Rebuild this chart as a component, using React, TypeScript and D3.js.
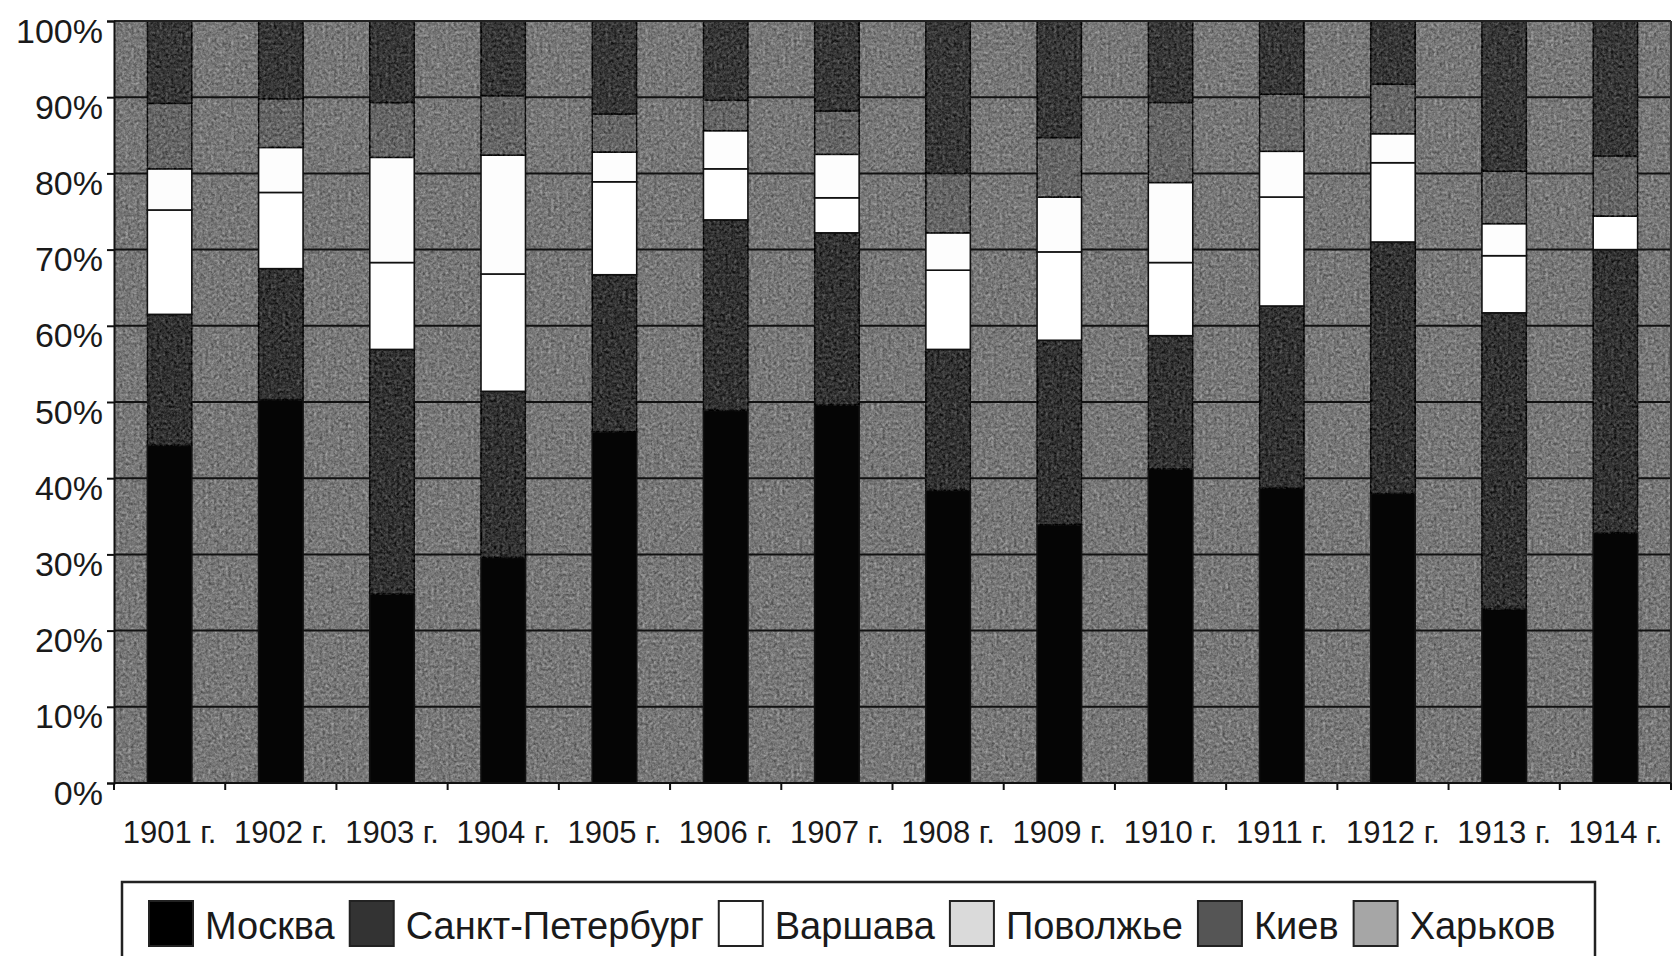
import React, { useEffect, useRef } from 'react'
import * as d3 from 'd3'

// shares by region, % of the year total
const years = ['1901 г.', '1902 г.', '1903 г.', '1904 г.', '1905 г.', '1906 г.', '1907 г.', '1908 г.', '1909 г.', '1910 г.', '1911 г.', '1912 г.', '1913 г.', '1914 г.']
const cities = ['Москва', 'Санкт-Петербург', 'Варшава', 'Поволжье', 'Киев', 'Харьков']
const moscow = [44.3, 50.3, 24.8, 29.6, 46.1, 48.9, 49.6, 38.4, 33.9, 41.2, 38.7, 38.0, 22.8, 32.8]
const petersburg = [17.2, 17.2, 32.1, 21.8, 20.6, 25.0, 22.6, 18.5, 24.2, 17.5, 23.9, 33.0, 38.9, 37.2]
const warsaw = [13.7, 10.0, 11.4, 15.4, 12.2, 6.7, 4.6, 10.4, 11.6, 9.6, 14.3, 10.4, 7.5, 4.4]
const volga = [5.4, 5.9, 13.8, 15.6, 3.9, 5.0, 5.7, 4.9, 7.2, 10.5, 6.0, 3.8, 4.2, 0]
const kiev = [8.6, 6.4, 7.2, 7.8, 5.0, 4.0, 5.7, 7.8, 7.8, 10.5, 7.5, 6.5, 6.9, 7.9]
const kharkov = [10.8, 10.2, 10.7, 9.8, 12.2, 10.4, 11.8, 20.0, 15.3, 10.7, 9.6, 8.3, 19.7, 17.7]
const yTicks = [0, 0.1, 0.2, 0.3, 0.4, 0.5, 0.6, 0.7, 0.8, 0.9, 1]

const barFill = ['#050505', '#333333', '#ffffff', '#fdfdfd', '#666666', '#383838']
const legendFill = ['#000000', '#333333', '#ffffff', '#dadada', '#555555', '#a6a6a6']
const grainy = [false, true, false, false, true, true]

const W = 1673
const H = 956
const FONT = '"Liberation Sans", Arial, sans-serif'

const App = () => {
  const ref = useRef<SVGSVGElement>(null)

  useEffect(() => {
    draw()
  }, [])

  const draw = () => {
    const left = 114, right = 1671, top = 21, bottom = 783
    const svg = d3.select(ref.current)
    svg.selectAll('*').remove()

    // granite-like speckle: source + k*(noise - 0.5), clipped to the shape
    const defs = svg.append('defs')
    const f = defs.append('filter').attr('id', 'grain')
      .attr('x', '-5%').attr('y', '-5%').attr('width', '110%').attr('height', '110%')
      .attr('color-interpolation-filters', 'sRGB')
    f.append('feTurbulence').attr('type', 'fractalNoise').attr('baseFrequency', 0.35)
      .attr('numOctaves', 3).attr('seed', 11).attr('result', 'n')
    f.append('feColorMatrix').attr('in', 'n').attr('type', 'matrix')
      .attr('values', '0.33 0.33 0.33 0 0  0.33 0.33 0.33 0 0  0.33 0.33 0.33 0 0  0 0 0 0 1')
      .attr('result', 'g')
    const ct = f.append('feComponentTransfer').attr('in', 'g').attr('result', 'c')
    ;['feFuncR', 'feFuncG', 'feFuncB'].forEach((fn) =>
      ct.append(fn).attr('type', 'linear').attr('slope', 2.4).attr('intercept', -0.7))
    f.append('feComposite').attr('in', 'c').attr('in2', 'SourceGraphic').attr('operator', 'arithmetic')
      .attr('k1', 0).attr('k2', 0.32).attr('k3', 1).attr('k4', -0.16).attr('result', 'mix')
    f.append('feComposite').attr('in', 'mix').attr('in2', 'SourceGraphic').attr('operator', 'in')

    const x = d3.scaleBand<string>().domain(years).range([left, right]).paddingInner(0.6).paddingOuter(0.3)
    const y = d3.scaleLinear().domain([0, 1]).range([bottom, top])

    const rows = years.map((yr, i) => ({
      year: yr,
      [cities[0]]: moscow[i],
      [cities[1]]: petersburg[i],
      [cities[2]]: warsaw[i],
      [cities[3]]: volga[i],
      [cities[4]]: kiev[i],
      [cities[5]]: kharkov[i],
    }))
    const series = d3.stack<any>().keys(cities).offset(d3.stackOffsetExpand)(rows)

    // plot area
    svg.append('rect')
      .attr('x', left).attr('y', top).attr('width', right - left).attr('height', bottom - top)
      .attr('fill', '#787878').attr('filter', 'url(#grain)')

    svg.append('g').selectAll('line').data(yTicks.slice(1, -1)).join('line')
      .attr('x1', left).attr('x2', right)
      .attr('y1', (d) => y(d)).attr('y2', (d) => y(d))
      .attr('stroke', '#111').attr('stroke-width', 2)

    // stacked columns
    svg.append('g').selectAll('g').data(series).join('g')
      .attr('fill', (_, i) => barFill[i])
      .selectAll('rect')
      .data((s) => s.filter((d) => d[1] - d[0] > 0))
      .join('rect')
      .attr('filter', function () {
        const i = series.indexOf(d3.select(this.parentNode as any).datum() as any)
        return grainy[i] ? 'url(#grain)' : null
      })
      .attr('x', (d) => x(d.data.year) as number)
      .attr('width', x.bandwidth())
      .attr('y', (d) => y(d[1]))
      .attr('height', (d) => y(d[0]) - y(d[1]))
      .attr('stroke', '#111').attr('stroke-width', 1.6)

    // frame
    svg.append('line').attr('x1', left).attr('x2', right).attr('y1', top).attr('y2', top)
      .attr('stroke', '#222').attr('stroke-width', 2)
    svg.append('line').attr('x1', right).attr('x2', right).attr('y1', top).attr('y2', bottom)
      .attr('stroke', '#333').attr('stroke-width', 2)

    // y axis
    const ya = svg.append('g').attr('transform', `translate(${left},0)`)
      .call(d3.axisLeft(y).tickValues(yTicks).tickSize(7).tickFormat(d3.format('.0%')))
    ya.select('.domain').attr('stroke', '#111').attr('stroke-width', 2)
    ya.selectAll('.tick line').attr('stroke', '#111').attr('stroke-width', 2)
    ya.selectAll('.tick text')
      .attr('x', -11).attr('dy', '0.62em')
      .attr('font-family', FONT).attr('font-size', 34).attr('fill', '#1a1a1a')

    // x axis: ticks between the categories
    const step = x.step()
    svg.append('line').attr('x1', left).attr('x2', right).attr('y1', bottom).attr('y2', bottom)
      .attr('stroke', '#111').attr('stroke-width', 2)
    svg.append('g').selectAll('line').data(d3.range(years.length + 1)).join('line')
      .attr('x1', (i) => left + i * step).attr('x2', (i) => left + i * step)
      .attr('y1', bottom).attr('y2', bottom + 7)
      .attr('stroke', '#111').attr('stroke-width', 2)
    svg.append('g').selectAll('text').data(years).join('text')
      .attr('x', (d) => (x(d) as number) + x.bandwidth() / 2)
      .attr('y', 843)
      .attr('text-anchor', 'middle')
      .attr('font-family', FONT).attr('font-size', 31).attr('fill', '#1a1a1a')
      .text((d) => d)

    // legend
    svg.append('rect').attr('x', 122).attr('y', 882).attr('width', 1473).attr('height', 95)
      .attr('fill', '#fff').attr('stroke', '#222').attr('stroke-width', 2.5)
    let lx = 149
    cities.forEach((c, i) => {
      svg.append('rect').attr('x', lx).attr('y', 901).attr('width', 44).attr('height', 45)
        .attr('fill', legendFill[i]).attr('stroke', '#222').attr('stroke-width', 2)
      const t = svg.append('text').attr('x', lx + 56).attr('y', 939)
        .attr('font-family', FONT).attr('font-size', 38).attr('fill', '#1a1a1a').text(c)
      const w = (t.node() as SVGTextElement).getComputedTextLength()
      lx += 56 + w + 15
    })
  }

  return (
    <div style={{ position: 'absolute', left: 0, top: 0, background: '#fff' }}>
      <svg ref={ref} width={W} height={H} />
    </div>
  )
}

export default App
